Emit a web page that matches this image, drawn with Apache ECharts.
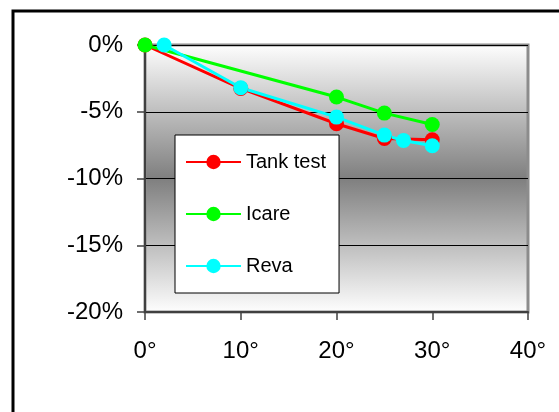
<!DOCTYPE html>
<html>
<head>
<meta charset="utf-8">
<script src="https://cdn.jsdelivr.net/npm/echarts@6/dist/echarts.min.js"></script>
<style>
html,body{margin:0;padding:0;background:#fff;}
#chart{width:559px;height:412px;}
</style>
</head>
<body>
<div id="chart"></div>
<script>
const seriesNames = ['Tank test', 'Icare', 'Reva'];
const tankTest = [[0, 0], [10, -3.25], [20, -5.9], [25, -7.0], [30, -7.1]];
const icare = [[0, 0], [20, -3.9], [25, -5.1], [30, -5.95]];
const reva = [[2, 0], [10, -3.2], [20, -5.4], [25, -6.75], [27, -7.15], [30, -7.55]];
const seriesColors = ['#ff0000', '#00ff00', '#00ffff'];
const xTicks = [0, 10, 20, 30, 40];
const yTicks = [-20, -15, -10, -5, 0];

const font = 'Liberation Sans, Arial, sans-serif';
const chart = echarts.init(document.getElementById('chart'), null, {renderer: 'canvas'});

const makeSeries = (name, data, color) => ({
  name: name,
  type: 'line',
  data: data,
  symbol: 'circle',
  symbolSize: 15,
  color: color,
  lineStyle: {width: 3, color: color},
  itemStyle: {color: color},
  animation: false
});

chart.setOption({
  animation: false,
  backgroundColor: '#ffffff',
  grid: {
    left: 145, top: 45, right: 31, bottom: 100,
    show: true,
    borderColor: '#8c8c8c',
    borderWidth: 3,
    backgroundColor: new echarts.graphic.LinearGradient(0, 0, 0, 1, [
      {offset: 0, color: '#ffffff'},
      {offset: 0.5, color: '#7f7f7f'},
      {offset: 1, color: '#ffffff'}
    ])
  },
  xAxis: {
    type: 'value',
    min: xTicks[0], max: xTicks[xTicks.length - 1], interval: 10,
    axisLine: {show: true, onZero: false, lineStyle: {color: '#404040', width: 2}},
    axisTick: {show: true, length: 8, lineStyle: {color: '#404040', width: 1.5}},
    splitLine: {show: false},
    axisLabel: {
      margin: 27, fontSize: 24, color: '#000', fontFamily: font,
      formatter: v => v + '°'
    }
  },
  yAxis: {
    type: 'value',
    min: yTicks[0], max: yTicks[yTicks.length - 1], interval: 5,
    axisLine: {show: true, onZero: false, lineStyle: {color: '#404040', width: 2}},
    axisTick: {show: true, length: 8, lineStyle: {color: '#404040', width: 1.5}},
    splitLine: {show: true, lineStyle: {color: '#000', width: 1}},
    axisLabel: {
      margin: 22, fontSize: 24, color: '#000', fontFamily: font,
      formatter: v => v + '%'
    }
  },
  legend: {
    orient: 'vertical',
    left: 175, top: 135,
    data: seriesNames,
    backgroundColor: '#ffffff',
    borderColor: '#000000',
    borderWidth: 1,
    padding: [17, 13, 17, 10],
    itemGap: 32,
    itemWidth: 55,
    itemHeight: 18,
    textStyle: {fontSize: 20, color: '#000', fontFamily: font}
  },
  graphic: [{
    type: 'rect',
    shape: {x: 13, y: 11, width: 600, height: 450},
    style: {fill: 'none', stroke: '#000', lineWidth: 3},
    silent: true,
    z: 100
  }],
  series: [
    makeSeries(seriesNames[0], tankTest, seriesColors[0]),
    makeSeries(seriesNames[1], icare, seriesColors[1]),
    makeSeries(seriesNames[2], reva, seriesColors[2])
  ]
});
</script>
</body>
</html>
